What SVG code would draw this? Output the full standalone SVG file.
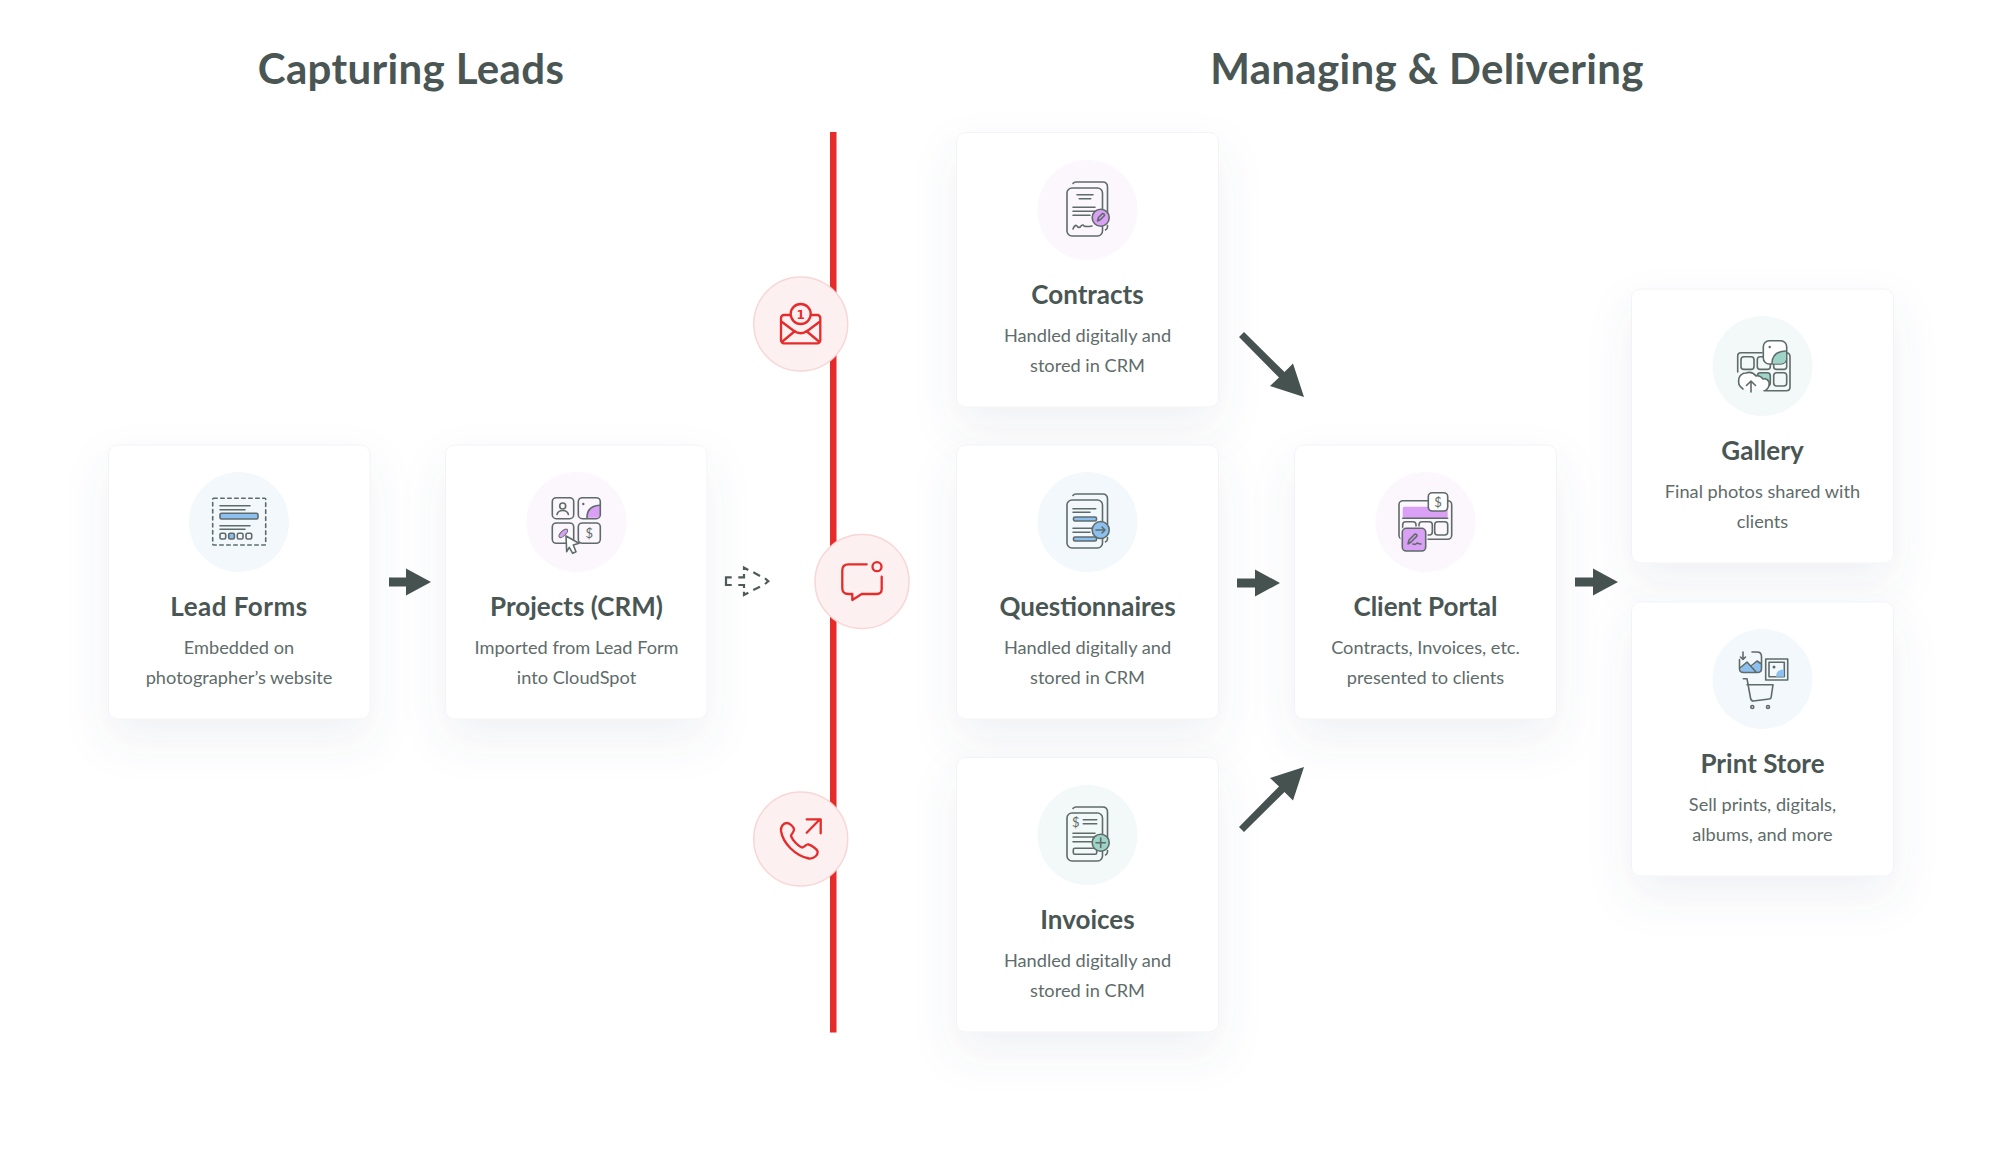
<svg xmlns="http://www.w3.org/2000/svg" width="2000" height="1164" viewBox="0 0 2000 1164">
<defs>
<filter id="sh" x="-30%" y="-30%" width="160%" height="170%"><feDropShadow dx="0" dy="20" stdDeviation="22" flood-color="#5a6a80" flood-opacity="0.085"/></filter>
<g id="doc"><path class="i" d="M-14.5,-26.5 q1,-1.500 3,-1.500 H15 q5,0 5,5 V11 M20,15.500 V17 q0,2 -2,3"/><rect class="i" x="-20.500" y="-22" width="35.500" height="48" rx="5" fill="#fff"/></g>
</defs>
<style>
text{font-family:Lato,"Liberation Sans",sans-serif;text-anchor:middle}
.h{font-size:42px;font-weight:700;fill:#4a5654;letter-spacing:.35px}
.t{font-size:26px;font-weight:700;fill:#4a5654}
.d{font-size:18.2px;fill:#606c6a}
.card{fill:#fff;stroke:#f2f3f5;stroke-width:1;filter:url(#sh)}
.i{fill:none;stroke:#5f6b69;stroke-width:1.600;stroke-linecap:round;stroke-linejoin:round}
.b{fill:#8cc0f0}.p{fill:#d9a0f5}.g{fill:#9ed3c8}
.r{fill:none;stroke:#e62b2b;stroke-width:2.300;stroke-linecap:round;stroke-linejoin:round}
.rc{fill:#fdf0f1;stroke:#f9d6d6;stroke-width:1.500}
.ar{fill:#465250}
.s{font-size:13px;fill:#5f6b69}
</style>
<rect width="2000" height="1164" fill="#fff"/>
<g id="headings">
<text class="h" x="411" y="84">Capturing Leads</text>
<text class="h" x="1427" y="84">Managing &amp; Delivering</text>
</g>

<g id="node-lead-forms">
<rect class="card" x="108.500" y="445" width="261.500" height="274" rx="9"/>
<circle cx="239" cy="522" r="50" fill="#f3f8fc"/>
<rect class="i" x="212.700" y="498.300" width="53" height="46.700" rx="1" stroke-dasharray="3.500 3.500"/>
<path class="i" d="M220,505.700H250M220,509.700H245M220,525.700H250M220,529.300H245"/>
<rect class="i" x="220" y="513.300" width="38" height="5.700" rx="1.500" style="fill:#8cc0f0"/>
<rect class="i" x="220" y="533.300" width="5.700" height="5.700" rx="1.500"/>
<rect class="i" x="228.700" y="533.300" width="5.700" height="5.700" rx="1.500" style="fill:#8cc0f0"/>
<rect class="i" x="237.300" y="533.300" width="5.700" height="5.700" rx="1.500"/>
<rect class="i" x="246" y="533.300" width="5.700" height="5.700" rx="1.500"/>
<text class="t" x="239" y="616" style="letter-spacing:.5px">Lead Forms</text>
<text class="d" x="239" y="654">Embedded on</text>
<text class="d" x="239" y="684">photographer’s website</text>
</g>

<g id="node-projects">
<rect class="card" x="445.500" y="445" width="261.500" height="274" rx="9"/>
<circle cx="576.500" cy="522" r="50" fill="#fbf7fd"/>
<path class="p" d="M587,517.700 q0,-12 13,-12.500 V514 q0,3.700 -3.500,3.700Z"/>
<rect class="i" x="552.300" y="497.700" width="21.400" height="21" rx="4"/>
<rect class="i" x="578.300" y="497.700" width="22" height="21" rx="4"/>
<rect class="i" x="552.300" y="523" width="21.400" height="20.300" rx="4"/>
<rect class="i" x="578.300" y="523" width="22" height="20.300" rx="4"/>
<circle class="i" cx="562.700" cy="506" r="3"/>
<path class="i" d="M557,514.500 q1,-4 5.700,-4 q4.700,0 5.700,4"/>
<circle cx="583.300" cy="504" r="1.200" fill="#5f6b69"/>
<path class="i" d="M587,517.700 q0,-12 13,-12.500"/>
<ellipse cx="563.300" cy="533.300" rx="5.500" ry="2.400" transform="rotate(-45 563.300 533.300)" fill="#d9a0f5" stroke="#5f6b69"/>
<text class="s" x="589.300" y="538">$</text>
<path class="i" d="M566,536L579,543.300L573.300,545L576,551.700L572.700,553.300L569.300,547.300L566.700,551.700Z" style="fill:#fff"/>
<text class="t" x="576.500" y="616">Projects (CRM)</text>
<text class="d" x="576.500" y="654">Imported from Lead Form</text>
<text class="d" x="576.500" y="684">into CloudSpot</text>
</g>

<g id="node-contracts">
<rect class="card" x="956.500" y="132.500" width="262" height="274.500" rx="9"/>
<circle cx="1087.500" cy="210" r="50" fill="#fbf7fd"/>
<use href="#doc" x="1087.500" y="210"/>
<path class="i" d="M1077,194.700H1093M1079.300,198.700H1090.700M1073,207.300H1095M1073,211.300H1095M1073,215.300H1090M1073,229 q2,-5 4,-3 q2,3 4,0 q2,-2 3,0 q2,1 8,0"/>
<circle class="i" cx="1100.700" cy="217.700" r="8.500" style="fill:#d9a0f5"/>
<path class="i" d="M1097.500,221 l1,-3.500 l4,-4 q2,0 2,2 l-4,4z"/>
<text class="t" x="1087.500" y="304">Contracts</text>
<text class="d" x="1087.500" y="342">Handled digitally and</text>
<text class="d" x="1087.500" y="372">stored in CRM</text>
</g>

<g id="node-questionnaires">
<rect class="card" x="956.500" y="445" width="262" height="274" rx="9"/>
<circle cx="1087.500" cy="522" r="50" fill="#f3f8fc"/>
<use href="#doc" x="1087.500" y="522"/>
<path class="i" d="M1073,508.700H1095.700M1073,512.300H1090M1073,528.300H1095M1073,532.300H1090"/>
<rect class="i" x="1073.500" y="517" width="23" height="4" rx="1.500" style="fill:#8cc0f0"/>
<rect class="i" x="1073.500" y="537" width="23" height="4" rx="1.500" style="fill:#8cc0f0"/>
<circle class="i" cx="1100.700" cy="530" r="8.500" style="fill:#8cc0f0"/>
<path class="i" d="M1096,530H1105M1102,527l3,3l-3,3"/>
<text class="t" x="1087.500" y="616">Questionnaires</text>
<text class="d" x="1087.500" y="654">Handled digitally and</text>
<text class="d" x="1087.500" y="684">stored in CRM</text>
</g>

<g id="node-invoices">
<rect class="card" x="956.500" y="757.500" width="262" height="274.500" rx="9"/>
<circle cx="1087.500" cy="835" r="50" fill="#f2f9f8"/>
<use href="#doc" x="1087.500" y="835"/>
<text class="s" x="1075.700" y="827">$</text>
<path class="i" d="M1083.300,819.700H1096.700M1083.300,823.700H1096.700M1073,833.300H1095M1073,837H1095M1073,841.700H1092"/>
<rect class="i" x="1073.300" y="848.300" width="23.400" height="6" rx="1.500"/>
<circle class="i" cx="1100.700" cy="842.700" r="8.500" style="fill:#9ed3c8"/>
<path class="i" d="M1096,842.700H1105.400M1100.700,838V847.400"/>
<text class="t" x="1087.500" y="929">Invoices</text>
<text class="d" x="1087.500" y="967">Handled digitally and</text>
<text class="d" x="1087.500" y="997">stored in CRM</text>
</g>

<g id="node-client-portal">
<rect class="card" x="1294.500" y="445" width="262" height="274" rx="9"/>
<circle cx="1425.500" cy="522" r="50" fill="#fbf7fd"/>
<rect class="i" x="1399" y="500.700" width="52.700" height="38.600" rx="4"/>
<rect x="1402.700" y="506.700" width="45" height="11.600" rx="2" fill="#d9a0f5"/>
<path class="i" d="M1402.700,518.300H1447.700"/>
<rect class="i" x="1402.700" y="521.700" width="13.300" height="13.300" rx="3"/>
<rect class="i" x="1419" y="521.700" width="13.300" height="13.300" rx="3"/>
<rect class="i" x="1434.700" y="521.700" width="13" height="13.300" rx="3"/>
<rect class="i" x="1428.300" y="492.700" width="19.400" height="18.300" rx="4" style="fill:#fff"/>
<text class="s" x="1438" y="507">$</text>
<rect x="1400.500" y="526.500" width="27" height="26.500" rx="6" fill="#fbf7fd"/>
<rect class="i" x="1402.300" y="528.300" width="23.400" height="22.700" rx="4" style="fill:#d9a0f5"/>
<path class="i" d="M1408,544l1,-4l6,-6q2,0 2,2l-6,6zM1413,544q3,1 4,-1q2,1 4,1"/>
<text class="t" x="1425.500" y="616">Client Portal</text>
<text class="d" x="1425.500" y="654">Contracts, Invoices, etc.</text>
<text class="d" x="1425.500" y="684">presented to clients</text>
</g>

<g id="node-gallery">
<rect class="card" x="1631.500" y="289" width="262" height="274" rx="9"/>
<circle cx="1762.500" cy="366" r="50" fill="#f2f9f8"/>
<path class="i" d="M1762,352.700H1741q-3.300,0-3.300,3.300V372M1786,352.700q4,0 4,4V387q0,3.700-3.700,3.700H1764"/>
<rect class="i" x="1741" y="356.700" width="13" height="12.700" rx="3"/>
<rect class="i" x="1757.300" y="356.700" width="13" height="12.700" rx="3"/>
<rect class="i" x="1773.700" y="356.700" width="13" height="12.700" rx="3"/>
<rect class="i" x="1757.300" y="372.700" width="13" height="13.300" rx="3" style="fill:#9ed3c8"/>
<rect class="i" x="1773.700" y="372.700" width="13" height="13.300" rx="3"/>
<rect class="i" x="1763.300" y="340.700" width="23.400" height="23.300" rx="6" style="fill:#fff"/>
<path class="g" d="M1772,363.500q0,-12 14,-12.500V358q0,5.500-5.500,5.500Z"/>
<path class="i" d="M1772,363.500q0,-12 14,-12.500"/>
<circle cx="1769.700" cy="347" r="1.200" fill="#5f6b69"/>
<path class="i" d="M1743,389q-6,-4-4,-11q2,-5 7,-5q6,-2 10,3q4,-1 7,3q4,-1 6,3q1,5-3,8" style="fill:#fff"/>
<path class="i" d="M1751,392V381M1746.500,385.500l4.500,-4.500l4.500,4.500"/>
<text class="t" x="1762.500" y="460">Gallery</text>
<text class="d" x="1762.500" y="498">Final photos shared with</text>
<text class="d" x="1762.500" y="528">clients</text>
</g>

<g id="node-print-store">
<rect class="card" x="1631.500" y="602" width="262" height="274" rx="9"/>
<circle cx="1762.500" cy="679" r="50" fill="#f3f8fc"/>
<path class="b" d="M1740,669l7,-7l5,5l5,-6l4,3v5q0,3-3,3h-16z"/>
<path class="i" d="M1752,652h5q4.500,0 4.500,4.500v12q0,4-4,4h-14q-4,0-4,-4v-9M1740,668l7,-6l9,10M1751,666l6,-5l4.500,3"/>
<path class="i" d="M1743,652v7M1740.500,657l2.500,2.500l2.500,-2.500"/>
<rect class="i" x="1765.700" y="659" width="22" height="21"/>
<rect class="i" x="1769" y="662.300" width="15.300" height="14.400"/>
<path class="b" d="M1776,676.700q0,-7 8,-7.500v7.500z"/>
<circle cx="1774" cy="667" r="1.500" fill="#5f6b69"/>
<path class="i" d="M1743.300,678.700H1747L1750.500,698q.5,3 3,3L1769,699q2,0 2.200,-2L1773,684.700H1747"/>
<circle class="i" cx="1752.300" cy="707" r="1.500"/>
<circle class="i" cx="1768" cy="707" r="1.500"/>
<text class="t" x="1762.500" y="773">Print Store</text>
<text class="d" x="1762.500" y="811">Sell prints, digitals,</text>
<text class="d" x="1762.500" y="841">albums, and more</text>
</g>

<g id="connectors">
<rect x="830" y="132" width="6.500" height="900.500" fill="#e62b2b"/>
<path class="ar" d="M389,577.500H406V568.500L431,582L406,595.500V586.500H389Z"/>
<path class="ar" d="M1237,578.500H1255V569.500L1280,583L1255,596.500V587.500H1237Z"/>
<path class="ar" d="M1575,577.500H1593V568.500L1618,582L1593,595.500V586.500H1575Z"/>
<path class="ar" d="M1239,337L1244,332L1284.500,372L1293,363.500L1304,397L1270,386L1279,377.500Z"/>
<path class="ar" d="M1239,827L1244,832L1284.500,792L1293,800.500L1304,767L1270,778L1279,786.500Z"/>
<path d="M731.700,577.300H726V585H731.700M738.300,577.300H744V574M738.300,585H744V588M744,570V567.700L748.300,570M753.300,572.300L760,576M765,578.300L768.300,581.300L765,584M760,586.700L753.300,590M748.300,592.700L744,595V591.700" fill="none" stroke="#4f5b59" stroke-width="2.200"/>
</g>

<g id="node-email">
<circle class="rc" cx="800.700" cy="324" r="47"/>
<rect class="r" x="781" y="315" width="39.300" height="28.300" rx="3"/>
<path class="r" d="M782,322L794,331q6.700,4.500 13.300,0L819.300,322M783,341L795,331M818.300,341L806.300,331"/>
<circle class="r" cx="800.700" cy="314" r="10" style="fill:#fdf0f1"/>
<text x="800.700" y="318.500" style="font-family:'DejaVu Sans',sans-serif;font-size:12px;font-weight:700;fill:#e62b2b">1</text>
</g>
<g id="node-message">
<circle class="rc" cx="862" cy="581.500" r="47"/>
<path class="r" d="M866.700,564.300H848.300q-6,0-6,6V588.300q0,5.700 6,5.700H852.300V600L861.700,594H876.700q5,0 5,-5V576.700"/>
<circle class="r" cx="877" cy="566.700" r="4.500"/>
</g>
<g id="node-phone">
<circle class="rc" cx="800.700" cy="839" r="47"/>
<path class="r" d="M806.700,832.700L820,819.300M806.700,819.300H820.700V833.300"/>
<path class="r" d="M787,823C783,823 780.500,827 781,831C783,843 795,856 809,858.500C814,859 818,855 817.700,851.500C817,849 811,845 808.500,844.500C806,844 804,847.500 802,847.500C798,846 793,841 791,836C791,834 794.500,832 794,829C793.500,827 790,823 787,823Z"/>
</g>
</svg>
